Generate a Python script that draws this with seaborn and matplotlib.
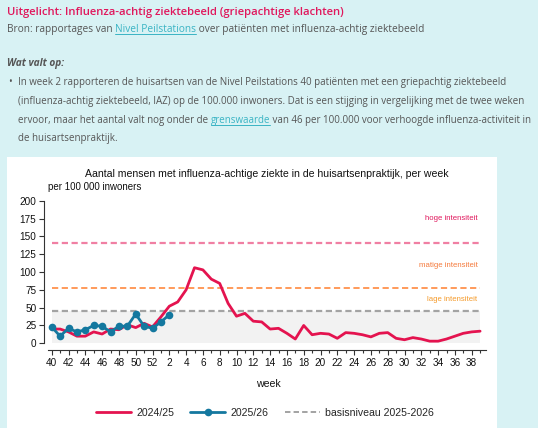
import numpy as np
import pandas as pd
import seaborn as sns
import matplotlib.pyplot as plt
from matplotlib.lines import Line2D
from matplotlib.patches import Rectangle

# week numbers on the x axis (season runs week 40 -> week 39)
weeks = list(range(40, 53)) + list(range(1, 40))

# patients with influenza-like illness per 100 000 inhabitants
season_2425 = [20, 20, 16, 10, 10, 16, 13, 20, 19, 26, 22, 28, 23,
               37, 52, 58, 75, 106, 103, 90, 84, 56, 38, 42, 31, 30,
               20, 21, 14, 6, 25, 12, 14, 13, 7, 15, 14, 12, 9, 14, 15,
               7, 5, 8, 6, 3, 3, 6, 10, 14, 16, 17]
season_2526 = [23, 10, 21, 16, 19, 25, 24, 16, 24, 24, 41, 24, 21, 30, 40]

# intensity thresholds
basis_level = 46
medium_level = 78
high_level = 141

W, H = 538, 428
red = "#e4134f"
blue = "#14789f"
page_bg = "#d8f2f4"
grey_text = "#555555"
link = "#3ab4c4"

sns.set_style("ticks")
plt.rcParams["font.family"] = ["Liberation Sans", "DejaVu Sans"]

fig = plt.figure(figsize=(W / 100, H / 100), dpi=100)
fig.patch.set_facecolor(page_bg)


def fx(px):
    return px / W


def fy(py):
    return 1 - py / H


# header text of the page
hdr = fig.add_axes([0, 0, 1, 1], zorder=0)
hdr.set_xlim(0, W)
hdr.set_ylim(H, 0)
hdr.axis("off")
hdr.add_patch(Rectangle((7, 157), 490, 280, facecolor="white", edgecolor="none"))

hf = ["Open Sans", "DejaVu Sans"]
body = 7.05
hdr.text(7, 12, "Uitgelicht: Influenza-achtig ziektebeeld (griepachtige klachten)",
         color="#e0175c", fontsize=8.1, fontweight="semibold", family=hf, va="center")

t1 = hdr.text(7, 29, "Bron: rapportages van ", color=grey_text, fontsize=7.3, family=hf, va="center")
t2 = hdr.annotate("Nivel Peilstations", xy=(1, 0), xycoords=t1, va="bottom",
                  color=link, fontsize=7.3, family=hf)
hdr.annotate(" over patiënten met influenza-achtig ziektebeeld", xy=(1, 0), xycoords=t2,
             va="bottom", color=grey_text, fontsize=7.3, family=hf)

hdr.text(7, 63, "Wat valt op:", color=grey_text, fontsize=7.3, family=hf,
         fontweight="bold", style="italic", va="center")
hdr.text(8, 82, "•", color=grey_text, fontsize=body, family=hf, va="center")
lines = [
    "In week 2 rapporteren de huisartsen van de Nivel Peilstations 40 patiënten met een griepachtig ziektebeeld",
    "(influenza-achtig ziektebeeld, IAZ) op de 100.000 inwoners. Dat is een stijging in vergelijking met de twee weken",
]
for i, s in enumerate(lines):
    hdr.text(18, 82 + i * 19, s, color=grey_text, fontsize=body, family=hf, va="center")
t3 = hdr.text(18, 120, "ervoor, maar het aantal valt nog onder de ", color=grey_text,
              fontsize=body, family=hf, va="center")
t4 = hdr.annotate("grenswaarde", xy=(1, 0), xycoords=t3, va="bottom", color=link,
                  fontsize=body, family=hf)
hdr.annotate(" van 46 per 100.000 voor verhoogde influenza-activiteit in", xy=(1, 0),
             xycoords=t4, va="bottom", color=grey_text, fontsize=body, family=hf)
hdr.text(18, 138, "de huisartsenpraktijk.", color=grey_text, fontsize=body, family=hf, va="center")

# chart axes
x0_px, step_px = 51.7, 8.4
y0_px, unit_px = 343.3, 0.713
xlim = (-0.9, 52.6)
ylim = (-9.5, 205)
left = x0_px + xlim[0] * step_px
right = x0_px + xlim[1] * step_px
bottom = y0_px - ylim[0] * unit_px
top = y0_px - ylim[1] * unit_px
ax = fig.add_axes([fx(left), fy(bottom), fx(right - left), (bottom - top) / H], zorder=1)
ax.patch.set_alpha(0)

idx = np.arange(len(weeks))
ax.fill_between([0, 51], 0, 45, color="#f2f2f2", lw=0, zorder=0)
ax.hlines(high_level, 0, 51, color="#f07fa3", lw=1.6, linestyles=(0, (2.8, 1.6)), zorder=1)
ax.hlines(medium_level, 0, 51, color="#ff9a5a", lw=1.4, linestyles=(0, (3.2, 1.8)), zorder=1)
ax.hlines(basis_level, 0, 51, color="#a3a3a3", lw=1.6, linestyles=(0, (2.8, 1.6)), zorder=1)

sns.lineplot(x=idx, y=season_2425, ax=ax, color=red, lw=2, zorder=3)
sns.lineplot(x=idx[:len(season_2526)], y=season_2526, ax=ax, color=blue, lw=2,
             marker="o", markersize=5.5, markeredgewidth=0, zorder=4)

ax.text(50.7, 175, "hoge intensiteit", color="#e0175c", fontsize=5.6, ha="right", va="center")
ax.text(50.7, 109, "matige intensiteit", color="#f57a3c", fontsize=5.6, ha="right", va="center")
ax.text(50.7, 61, "lage intensiteit", color="#f59a2a", fontsize=5.6, ha="right", va="center")

ax.set_xlim(*xlim)
ax.set_ylim(*ylim)
ax.set_yticks(range(0, 201, 25))
ax.set_xticks(idx[::2])
ax.set_xticklabels([str(w) for w in weeks[::2]])
ax.set_xticks(idx, minor=True)
ax.tick_params(axis="both", which="major", labelsize=7.2, length=3.5, width=0.8,
               colors="#333333", labelcolor="#111111", pad=2)
ax.tick_params(axis="x", which="minor", length=2, width=0.8, colors="#333333")
ax.spines["right"].set_visible(False)
ax.spines["top"].set_visible(False)
ax.spines["left"].set_bounds(0, 200)
ax.spines["bottom"].set_bounds(-0.45, 51.7)
for s in ("left", "bottom"):
    ax.spines[s].set_color("#333333")
    ax.spines[s].set_linewidth(0.8)
ax.set_xlabel("week", fontsize=7.6, labelpad=8, color="#111111")
ax.set_ylabel("")

fig.text(fx(267), fy(174), "Aantal mensen met influenza-achtige ziekte in de huisartsenpraktijk, per week",
         fontsize=7.6, ha="center", va="center", color="#111111")
fig.text(fx(48), fy(187), "per 100 000 inwoners", fontsize=7.0, ha="left", va="center",
         color="#111111")

handles = [
    Line2D([], [], color=red, lw=2),
    Line2D([], [], color=blue, lw=2, marker="o", markersize=5.5, markeredgewidth=0),
    Line2D([], [], color="#a3a3a3", lw=1.4, ls=(0, (2.8, 1.6))),
]
fig.legend(handles, ["2024/25", "2025/26", "basisniveau 2025-2026"], loc="center",
           bbox_to_anchor=(fx(265), fy(413)), ncol=3, frameon=False, fontsize=7.6,
           handlelength=3.3, columnspacing=1.5, handletextpad=0.55)

# underline the two links
fig.canvas.draw()
for t in (t2, t4):
    bb = t.get_window_extent().transformed(hdr.transData.inverted())
    hdr.plot([bb.x0, bb.x1], [bb.y0 - 0.5, bb.y0 - 0.5], color=link, lw=0.7)

fig.savefig("out.png", dpi=100, facecolor=fig.get_facecolor())
